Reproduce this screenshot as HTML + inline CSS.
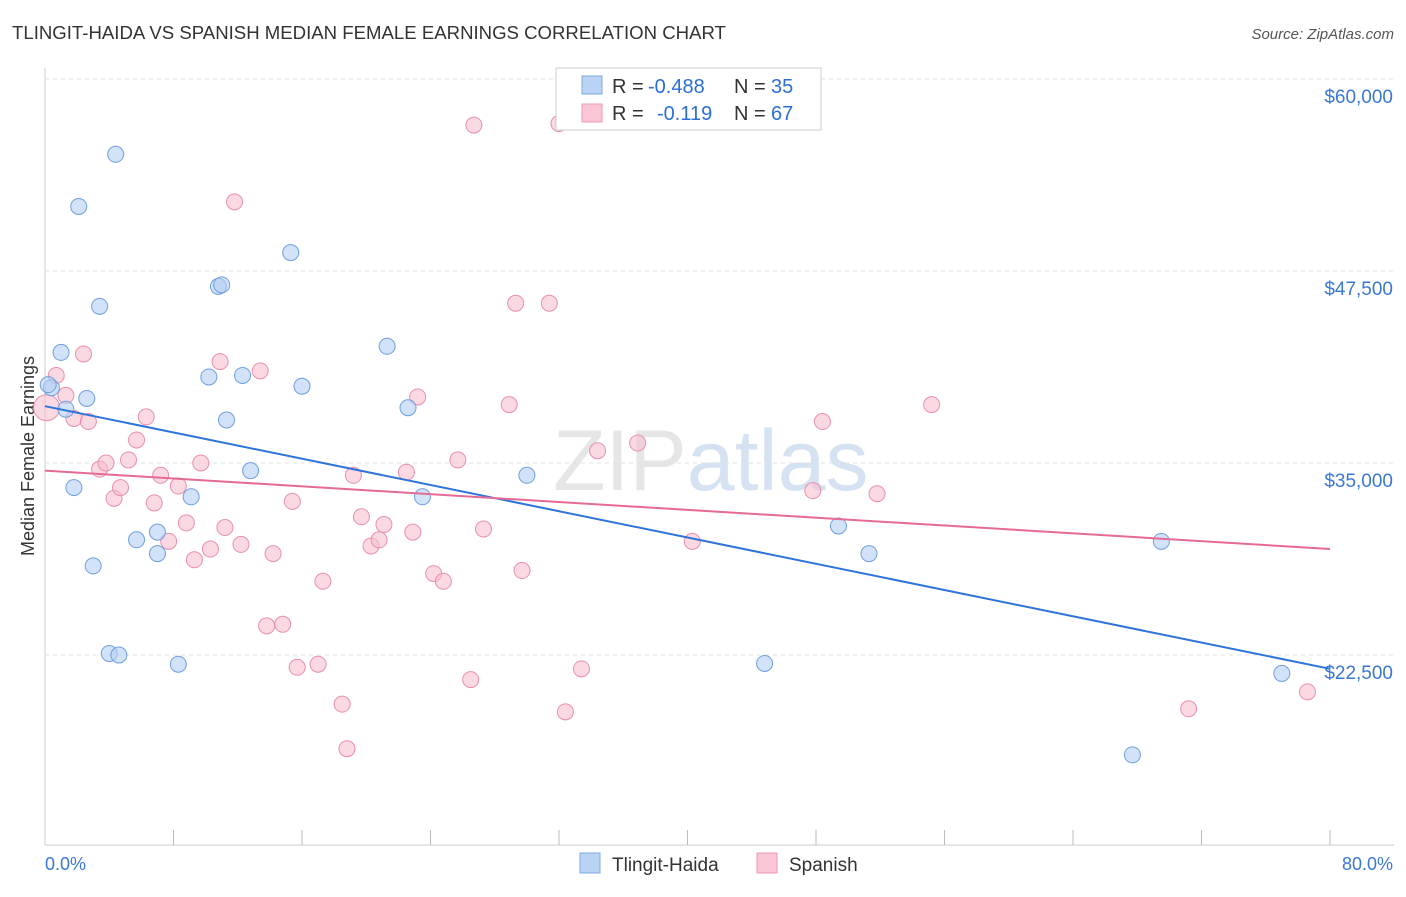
<!DOCTYPE html>
<html><head><meta charset="utf-8"><style>
body{margin:0;background:#fff;font-family:"Liberation Sans",sans-serif;}
svg text{font-family:"Liberation Sans",sans-serif;}
</style></head><body>
<svg id="c" width="1406" height="892" xmlns="http://www.w3.org/2000/svg">
<text x="12" y="39" font-size="18.6" fill="#333">TLINGIT-HAIDA VS SPANISH MEDIAN FEMALE EARNINGS CORRELATION CHART</text>
<text x="1394" y="39" font-size="15" fill="#555" text-anchor="end" font-style="italic">Source: ZipAtlas.com</text>
<text x="34" y="456" font-size="18" fill="#333" text-anchor="middle" transform="rotate(-90 34 456)">Median Female Earnings</text>
<text x="553" y="490" font-size="86" fill="#e6e6e6" font-family="Liberation Serif">ZIP<tspan fill="#d5e2f2" font-family="Liberation Sans">atlas</tspan></text>
<g id="grid"></g><g id="pts"></g><g id="trend"></g>
<g>
<rect x="556" y="68" width="265" height="62" fill="#fff" stroke="#ccc"/>
<rect x="582" y="76" width="20" height="18" fill="#b9d3f5" stroke="#7fa9e0"/>
<rect x="582" y="104" width="20" height="18" fill="#f9c6d5" stroke="#ec9ab3"/>
<text x="612" y="93" font-size="20" fill="#333">R = <tspan x="648" fill="#2b6fd6">-0.488</tspan><tspan x="734">N = </tspan><tspan x="771" fill="#2b6fd6">35</tspan></text>
<text x="612" y="120" font-size="20" fill="#333">R = <tspan x="657" fill="#2b6fd6">-0.119</tspan><tspan x="734">N = </tspan><tspan x="771" fill="#2b6fd6">67</tspan></text>
</g>
<g>
<rect x="580" y="853" width="20" height="20" fill="#b9d3f5" stroke="#7fa9e0"/>
<text x="612" y="871" font-size="19" fill="#333">Tlingit-Haida</text>
<rect x="757" y="853" width="20" height="20" fill="#f9c6d5" stroke="#ec9ab3"/>
<text x="789" y="871" font-size="19" fill="#333">Spanish</text>
</g>
<text x="45" y="870" font-size="18" fill="#3a78d6">0.0%</text>
<text x="1393" y="870" font-size="18" fill="#3a78d6" text-anchor="end">80.0%</text>
</svg>
<script>
const yTicks=[60000,47500,35000,22500];
const yTickLabels=["$60,000","$47,500","$35,000","$22,500"];
const blueX=[0.4,1.0,1.3,2.6,1.8,3.0,3.4,2.1,4.4,4.0,4.6,5.7,7.0,7.0,8.3,9.1,10.2,10.8,11.0,11.3,12.3,12.8,15.3,16.0,21.3,22.6,23.5,30.0,44.8,49.4,51.3,69.5,67.7,77.0,0.2];
const blueY=[39900,42200,38500,39200,33400,28300,45200,51700,55100,22600,22500,30000,30500,29100,21900,32800,40600,46500,46600,37800,40700,34500,48700,40000,42600,38600,32800,34200,21950,30900,29100,29900,16000,21300,40100];
const pinkX=[0.1,0.7,1.3,1.8,2.4,2.7,3.4,3.8,4.3,4.7,5.2,5.7,6.3,6.8,7.2,7.7,8.3,8.8,9.3,9.7,10.3,10.9,11.2,11.8,12.2,13.4,13.8,14.2,14.8,15.4,15.7,17.0,17.3,18.5,18.8,19.2,19.7,20.3,20.8,21.1,22.5,22.9,23.2,24.2,24.8,25.7,26.5,26.7,27.3,28.9,29.3,29.7,31.4,32.0,32.4,33.4,34.4,36.9,40.3,47.8,48.4,51.8,55.2,71.2,78.6];
const pinkY=[38600,40700,39400,37900,42100,37700,34600,35000,32700,33400,35200,36500,38000,32400,34200,29900,33500,31100,28700,35000,29400,41600,30800,52000,29700,41000,24400,29100,24500,32500,21700,21900,27300,19300,16400,34200,31500,29600,30000,31000,34400,30500,39300,27800,27300,35200,20900,57000,30700,38800,45400,28000,45400,57100,18800,21600,35800,36300,29900,33200,37700,33000,38800,19000,20100];
const blueTrend=[38700,21600];
const pinkTrend=[34500,29400];
const X0=45,X1=1330,Y60=79,PXP=192/12500;
const sx=v=>X0+(v/80)*(X1-X0);
const sy=v=>Y60+(60000-v)*PXP;
const NS="http://www.w3.org/2000/svg";
function mk(tag,attrs,parent){const e=document.createElementNS(NS,tag);for(const k in attrs)e.setAttribute(k,attrs[k]);parent.appendChild(e);return e;}
const g=document.getElementById('grid');
let ax=mk('line',{x1:45,y1:68,x2:45,y2:845,stroke:'#ccc'},g);


let bx=mk('line',{x1:45,y1:845,x2:1394,y2:845,stroke:'#ccc'},g);


for(let i=1;i<=10;i++){const t=mk('line',{x1:sx(i*8),y1:830,x2:sx(i*8),y2:845,stroke:'#bbb'},g);

}
yTicks.forEach((v,i)=>{const l=mk('line',{x1:45,y1:sy(v),x2:1394,y2:sy(v),stroke:'#e2e2e2','stroke-dasharray':'4,4'},g);


const t=mk('text',{x:1393,y:sy(v)+24,'font-size':19,fill:'#3a78d6','text-anchor':'end'},g);t.textContent=yTickLabels[i];

});
const p=document.getElementById('pts');
function dots(xs,ys,fill,stroke,name,r){xs.forEach((x,i)=>{const c=mk('circle',{cx:sx(x),cy:sy(ys[i]),r:(i===0&&name==='spanish-point')?13:r,fill:fill,stroke:stroke,'stroke-width':1,'fill-opacity':0.6},p);

});}
dots(pinkX,pinkY,'#f7bfd0','#ea8fab','spanish-point',8);
dots(blueX,blueY,'#b4cef3','#6f9fe0','tlingit-point',8);
const tr=document.getElementById('trend');
let l1=mk('line',{x1:sx(0),y1:sy(blueTrend[0]),x2:sx(80),y2:sy(blueTrend[1]),stroke:'#2f74d8','stroke-width':2},tr);


let l2=mk('line',{x1:sx(0),y1:sy(pinkTrend[0]),x2:sx(80),y2:sy(pinkTrend[1]),stroke:'#e56a95','stroke-width':2},tr);


</script>
</body></html>
